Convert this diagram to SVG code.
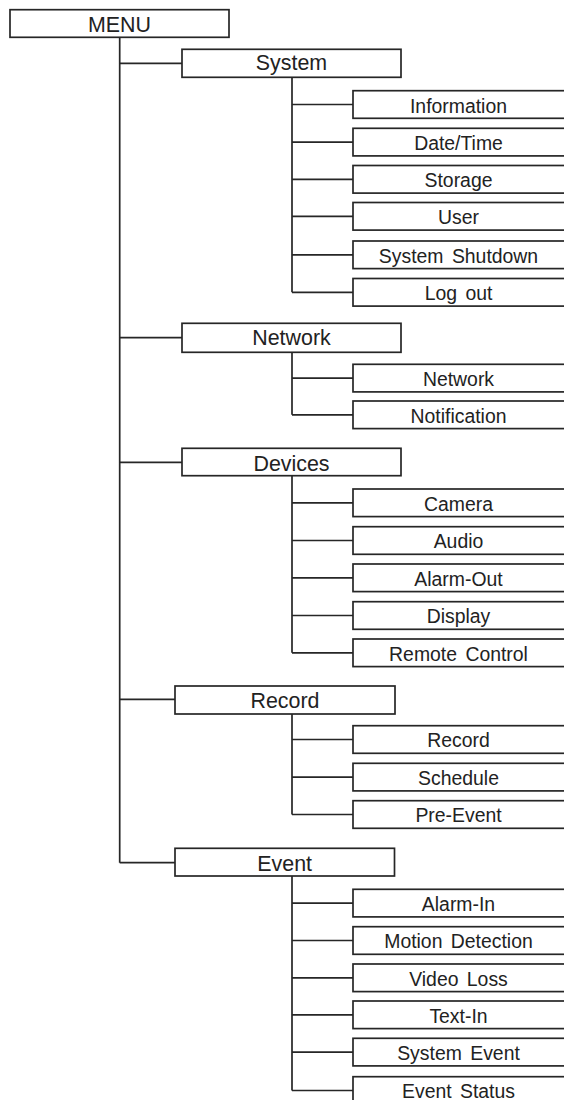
<svg xmlns="http://www.w3.org/2000/svg" width="564" height="1100" viewBox="0 0 564 1100">
<style>
rect{fill:#fff;stroke:#262626;stroke-width:1.7}
.c path{fill:none;stroke:#262626;stroke-width:1.7}
text{font-family:"Liberation Sans",Arial,sans-serif;fill:#222;text-anchor:middle;word-spacing:3px}
.l1 text{font-size:21.4px}
.lf text{font-size:19.4px}
</style>
<rect x="0" y="0" width="564" height="1100" style="stroke:none"/>
<g class="c">
<path d="M119.7 37.3V862.7M119.7 63.3H182M119.7 337.7H182M119.7 462.3H182M119.7 699.3H175M119.7 862.7H175"/>
<path d="M292 77.3V292.3M292 104.5H353M292 142.1H353M292 179.3H353M292 216.3H353M292 254.8H353M292 292.3H353"/>
<path d="M292 352.3V414.8M292 378.1H353M292 414.8H353"/>
<path d="M292 475.7V652.8M292 502.8H353M292 540.5H353M292 577.8H353M292 615.5H353M292 652.8H353"/>
<path d="M292 714V814.5M292 739.5H353M292 777.1H353M292 814.5H353"/>
<path d="M292 876V1090.5M292 903.1H353M292 940.5H353M292 977.8H353M292 1014.8H353M292 1052.1H353M292 1090.5H353"/>
</g>
<g id="menu" class="l1"><rect x="10" y="9.7" width="219" height="27.6"/><text x="119.5" y="32.2">MENU</text></g>
<g id="system" class="l1"><rect x="182" y="49.3" width="219" height="28"/><text x="291.5" y="69.8">System</text></g>
<g id="network" class="l1"><rect x="182" y="323.3" width="219" height="29"/><text x="291.5" y="345">Network</text></g>
<g id="devices" class="l1"><rect x="182" y="448.3" width="219" height="27.4"/><text x="291.5" y="470.5">Devices</text></g>
<g id="record" class="l1"><rect x="175" y="686" width="220" height="28"/><text x="285" y="707.6">Record</text></g>
<g id="event" class="l1"><rect x="175" y="848.3" width="219.5" height="27.7"/><text x="284.7" y="870.6">Event</text></g>
<g id="information" class="lf"><rect x="353" y="90.7" width="213" height="27.6"/><text x="458.5" y="112.5">Information</text></g>
<g id="datetime" class="lf"><rect x="353" y="128.3" width="213" height="27.6"/><text x="458.5" y="150">Date/Time</text></g>
<g id="storage" class="lf"><rect x="353" y="165.5" width="213" height="27.6"/><text x="458.5" y="187.2">Storage</text></g>
<g id="user" class="lf"><rect x="353" y="202.5" width="213" height="27.6"/><text x="458.5" y="224.2">User</text></g>
<g id="shutdown" class="lf"><rect x="353" y="241" width="213" height="27.6"/><text x="458.5" y="262.6">System Shutdown</text></g>
<g id="logout" class="lf"><rect x="353" y="278.5" width="213" height="27.6"/><text x="458.5" y="300.1">Log out</text></g>
<g id="network-leaf" class="lf"><rect x="353" y="364.3" width="213" height="27.6"/><text x="458.5" y="385.8">Network</text></g>
<g id="notification" class="lf"><rect x="353" y="401" width="213" height="27.6"/><text x="458.5" y="422.6">Notification</text></g>
<g id="camera" class="lf"><rect x="353" y="489" width="213" height="27.6"/><text x="458.5" y="510.6">Camera</text></g>
<g id="audio" class="lf"><rect x="353" y="526.7" width="213" height="27.6"/><text x="458.5" y="548.3">Audio</text></g>
<g id="alarmout" class="lf"><rect x="353" y="564" width="213" height="27.6"/><text x="458.5" y="585.6">Alarm-Out</text></g>
<g id="display" class="lf"><rect x="353" y="601.7" width="213" height="27.6"/><text x="458.5" y="623.3">Display</text></g>
<g id="remote" class="lf"><rect x="353" y="639" width="213" height="27.6"/><text x="458.5" y="660.6">Remote Control</text></g>
<g id="record-leaf" class="lf"><rect x="353" y="725.7" width="213" height="27.6"/><text x="458.5" y="747.3">Record</text></g>
<g id="schedule" class="lf"><rect x="353" y="763.3" width="213" height="27.6"/><text x="458.5" y="784.9">Schedule</text></g>
<g id="preevent" class="lf"><rect x="353" y="800.7" width="213" height="27.6"/><text x="458.5" y="822.3">Pre-Event</text></g>
<g id="alarmin" class="lf"><rect x="353" y="889.3" width="213" height="27.6"/><text x="458.5" y="910.9">Alarm-In</text></g>
<g id="motion" class="lf"><rect x="353" y="926.7" width="213" height="27.6"/><text x="458.5" y="948.3">Motion Detection</text></g>
<g id="videoloss" class="lf"><rect x="353" y="964" width="213" height="27.6"/><text x="458.5" y="985.6">Video Loss</text></g>
<g id="textin" class="lf"><rect x="353" y="1001" width="213" height="27.6"/><text x="458.5" y="1022.6">Text-In</text></g>
<g id="sysevent" class="lf"><rect x="353" y="1038.3" width="213" height="27.6"/><text x="458.5" y="1059.9">System Event</text></g>
<g id="eventstatus" class="lf"><rect x="353" y="1076.7" width="213" height="27.6"/><text x="458.5" y="1097.5">Event Status</text></g>
</svg>
